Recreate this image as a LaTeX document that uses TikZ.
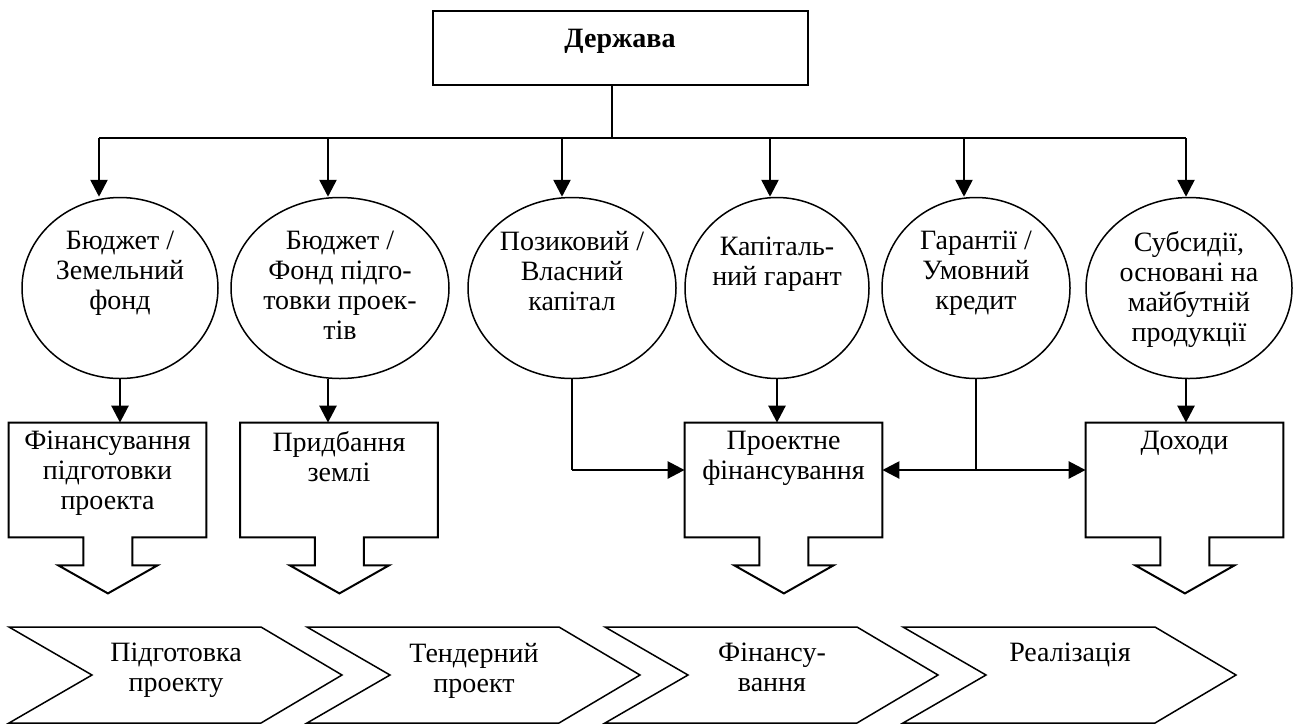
\documentclass[tikz,border=0pt]{standalone}
\usepackage{fontspec}
\setmainfont{Liberation Serif}
\usepackage{tikz}
\usetikzlibrary{arrows.meta,shapes.geometric}

\tikzset{
  oval/.style={draw, ellipse, line width=0.75pt, minimum height=90.5pt, inner sep=0pt},
  box/.style={rectangle, minimum width=98.5pt, minimum height=57pt, inner sep=0pt},
  txt/.style={anchor=north, align=center, inner sep=0pt, font=\fontsize{14}{15}\selectfont},
  arr/.style={line width=1.3pt, -{Triangle[width=8.5pt,length=8.5pt]}},
  wire/.style={line width=0.7pt}
}

\begin{document}
\begin{tikzpicture}[x=0.5pt, y=-0.5pt]
\useasboundingbox (0,0) rectangle (1295,725);
%\draw[very thin, color=gray, step=50] (0,0) grid (1295,725);
\node[draw, line width=1pt, minimum width=187.5pt, minimum height=37pt, text depth=9.5pt,
  font=\fontsize{14}{15}\selectfont\bfseries] (derzh) at (620,48) {Держава};
%----------------------------------------
\coordinate (hub) at (612,138);
\foreach \n/\x in {1/99, 2/328, 3/562, 4/770, 5/964, 6/1186}
  \coordinate (t\n) at (\x,138);
\draw[wire] (hub |- derzh.south) -- (hub);
\draw[wire] (t1) -- (t6);
%----------------------------------------
\node[oval, minimum width=98pt]  (c1) at (120,288) {};
\node[oval, minimum width=109pt] (c2) at (340,288) {};
\node[oval, minimum width=104pt] (c3) at (572,288) {};
\node[oval, minimum width=92pt]  (c4) at (777,288) {};
\node[oval, minimum width=94pt]  (c5) at (976,288) {};
\node[oval, minimum width=103pt] (c6) at (1189,288) {};
\node[txt] (c1t) at ([yshift=-17pt]c1.north) {Бюджет /\\Земельний\\фонд};
\node[txt] (c2t) at ([yshift=-17pt]c2.north) {Бюджет /\\Фонд підго-\\товки проек-\\тів};
\node[txt] (c3t) at ([yshift=-17pt]c3.north) {Позиковий /\\Власний\\капітал};
\node[txt] (c4t) at ([yshift=-20pt]c4.north) {Капіталь-\\ний гарант};
\node[txt] (c5t) at ([yshift=-17pt]c5.north) {Гарантії /\\Умовний\\кредит};
\node[txt] (c6t) at ([yshift=-17pt]c6.north) {Субсидії,\\основані на\\майбутній\\продукції};
\foreach \n in {1,...,6}
  \draw[arr] (t\n) -- (t\n |- c\n.north);
%----------------------------------------
\node[box] (b1) at (107.5,480) {};
\node[box] (b2) at (339,480) {};
\node[box] (b3) at (783.5,480) {};
\node[box] (b4) at (1184.5,480) {};
\foreach \b in {b1,b2,b3,b4}
  \draw[line width=1pt] (\b.south west) -- (\b.north west) -- (\b.north east) -- (\b.south east)
    -- ++(-74,0) -- ++(0,28) -- ++(25,0) -- ++(-49.5,28) -- ++(-49.5,-28) -- ++(25,0) -- ++(0,-28) -- cycle;
\node[txt] (b1t) at ([yshift=-4pt]b1.north) {Фінансування\\підготовки\\проекта};
\node[txt] (b2t) at ([yshift=-4pt]b2.north) {Придбання\\землі};
\node[txt] (b3t) at ([yshift=-4pt]b3.north) {Проектне\\фінансування};
\node[txt] (b4t) at ([yshift=-4pt]b4.north) {Доходи};
%----------------------------------------
\draw[arr] (c1.south) -- (c1.south |- b1.north);
\draw[arr] (t2 |- c2.south) -- (t2 |- b2.north);
\draw[arr] (c4.south) -- (c4.south |- b3.north);
\draw[arr] (t6 |- c6.south) -- (t6 |- b4.north);
\coordinate (j3) at ([yshift=5pt]b3.west);
\draw[wire] (c3.south) -- (c3.south |- j3);
\draw[arr] (c3.south |- j3) -- (j3);
\coordinate (j5) at (c5.south |- j3);
\draw[wire] (c5.south) -- (j5);
\draw[arr] (j5) -- (b3.east |- j5);
\draw[arr] (j5) -- (b4.west |- j5);
%----------------------------------------
\foreach \n/\xl/\stage in {1/9/{Підготовка\\проекту}, 2/307/{Тендерний\\проект},
    3/605/{Фінансу-\\вання}, 4/903/{Реалізація}} {
  \draw[line width=0.75pt] (\xl,627) -- ++(252,0) -- ++(81,48) -- ++(-81,48) -- ++(-252,0) -- ++(83,-48) -- cycle;
  \node[txt] (s\n) at (\xl+167,643) {\stage};
}
\end{tikzpicture}
\end{document}
